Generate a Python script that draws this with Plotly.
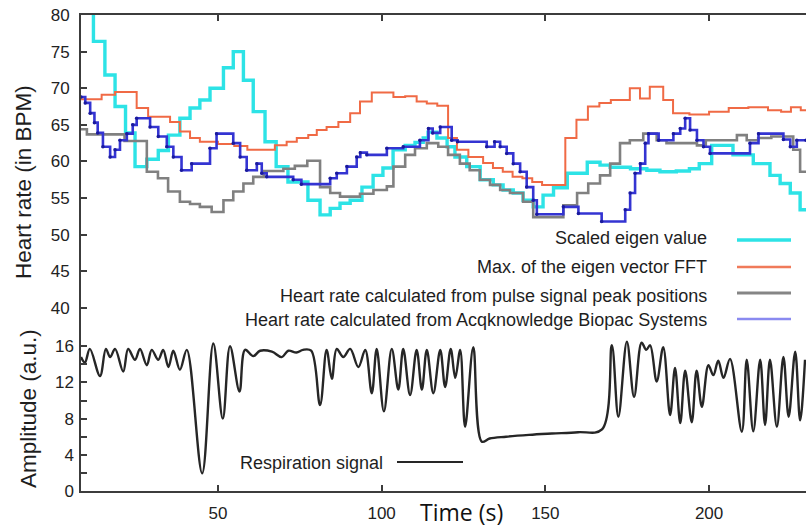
import plotly.graph_objects as go

# Heart-rate estimates, step samples as (time in s, BPM)
scaled_eigen = [(8.2, 84.0), (12.0, 76.4), (15.5, 71.8), (18.6, 67.5), (21.8, 63.9), (24.7, 59.3),
                (28.3, 60.3), (31.8, 61.5), (34.9, 63.6), (38.4, 65.9), (41.5, 67.3), (44.5, 68.4),
                (47.6, 70.0), (51.7, 72.8), (54.7, 75.0), (57.8, 71.1), (60.8, 66.8), (64.4, 62.7),
                (67.8, 59.3), (71.4, 57.2), (77.5, 54.7), (81.2, 52.7), (84.3, 53.6), (87.3, 54.3),
                (90.4, 54.7), (94.0, 56.5), (97.4, 58.1), (100.4, 59.1), (103.5, 61.6), (107.2, 62.2),
                (110.2, 62.6), (112.7, 63.2), (114.2, 64.0), (116.9, 63.2), (120.0, 62.0), (122.4, 60.6),
                (126.0, 59.3), (130.1, 57.5), (134.1, 56.8), (137.1, 56.1), (140.2, 55.7), (143.2, 54.7),
                (146.3, 53.8), (149.3, 55.4), (152.5, 56.4), (156.7, 58.4), (162.8, 59.9), (166.7, 59.5),
                (169.8, 59.2), (176.0, 59.0), (181.0, 58.8), (185.0, 58.6), (190.0, 58.7), (194.0, 59.0),
                (197.0, 59.7), (200.8, 62.2), (207.3, 60.9), (213.5, 59.7), (218.6, 58.1), (221.7, 57.0),
                (224.8, 55.7), (227.8, 53.4), (229.6, 53.4)]

eigen_fft = [(8.2, 68.5), (14.5, 69.1), (18.6, 69.5), (25.2, 67.3), (28.7, 66.1), (35.4, 65.4),
             (38.4, 64.1), (41.5, 63.2), (44.5, 62.7), (50.0, 62.4), (55.0, 62.1), (59.0, 61.6),
             (67.4, 62.2), (71.0, 62.7), (74.1, 63.2), (77.6, 63.6), (80.2, 64.3), (83.2, 64.7),
             (86.8, 65.4), (90.4, 66.6), (93.4, 68.2), (97.0, 69.4), (103.6, 68.8), (107.2, 68.9),
             (110.7, 68.2), (113.8, 67.9), (117.0, 67.6), (120.3, 63.2), (123.0, 61.6), (126.5, 60.6),
             (131.0, 59.8), (134.0, 59.1), (137.0, 58.6), (140.0, 57.9), (143.0, 57.7), (146.0, 57.2),
             (149.0, 56.8), (156.1, 63.2), (159.5, 65.7), (163.0, 67.5), (166.5, 68.0), (170.0, 68.4),
             (175.8, 70.0), (178.9, 68.6), (181.9, 70.2), (186.0, 68.4), (189.0, 66.6), (194.0, 66.4),
             (200.0, 66.8), (206.0, 67.3), (212.0, 67.4), (218.0, 67.0), (222.0, 66.8), (225.0, 67.4),
             (228.0, 67.0), (229.6, 67.0)]

pulse_peaks = [(8.2, 64.4), (10.0, 63.7), (21.5, 62.8), (28.3, 58.6), (31.7, 57.7), (34.8, 55.9),
               (38.4, 54.5), (41.5, 54.2), (44.5, 53.8), (48.1, 53.1), (51.7, 54.7), (54.7, 55.9),
               (57.8, 57.0), (60.8, 57.9), (64.0, 58.7), (70.0, 59.0), (73.5, 59.4), (77.3, 60.1),
               (81.2, 56.5), (84.3, 55.7), (87.3, 55.2), (93.4, 55.6), (97.5, 56.1), (101.6, 56.6),
               (103.6, 59.3), (107.2, 60.9), (110.2, 61.8), (113.8, 62.5), (117.3, 62.0), (120.3, 60.9),
               (123.9, 59.7), (126.9, 58.8), (130.0, 57.5), (133.1, 56.8), (136.2, 56.1), (139.2, 55.7),
               (143.2, 54.5), (146.3, 52.4), (155.5, 54.0), (159.7, 55.7), (163.1, 57.0), (166.7, 58.1),
               (169.8, 59.7), (172.8, 62.5), (175.8, 62.9), (179.9, 63.8), (184.0, 62.9), (187.0, 62.5),
               (196.3, 62.2), (199.0, 62.9), (208.5, 63.6), (211.5, 62.9), (215.0, 63.2), (219.0, 63.4),
               (225.7, 61.6), (227.8, 58.6), (229.6, 58.6)]

biopac = [(8.2, 68.8), (9.5, 68.0), (11.0, 66.6), (12.3, 65.3), (13.3, 63.9), (14.9, 62.0),
          (17.1, 60.6), (18.6, 61.6), (20.1, 62.9), (22.2, 63.8), (24.0, 65.0), (25.2, 65.9),
          (29.3, 64.7), (31.8, 63.4), (34.4, 62.0), (36.4, 60.6), (38.9, 58.8), (42.0, 59.7),
          (47.6, 61.8), (49.6, 63.8), (54.7, 62.5), (56.8, 60.6), (58.8, 58.8), (61.9, 59.7),
          (63.4, 58.4), (64.9, 57.9), (73.0, 57.5), (75.5, 56.9), (84.3, 57.7), (86.3, 58.4),
          (89.4, 59.3), (92.4, 60.6), (93.5, 61.2), (95.5, 60.9), (101.6, 61.8), (106.6, 62.0),
          (111.7, 62.9), (114.3, 64.5), (115.6, 63.9), (117.9, 64.7), (121.4, 62.9), (123.2, 62.7),
          (132.1, 62.0), (134.5, 62.7), (136.2, 62.0), (138.2, 61.1), (140.2, 59.7), (142.3, 58.6),
          (144.3, 56.5), (146.3, 54.7), (147.4, 52.8), (155.5, 53.8), (160.1, 52.9), (167.2, 51.8),
          (174.4, 53.4), (175.9, 55.7), (177.4, 58.4), (179.0, 59.7), (180.5, 62.5), (181.5, 63.8),
          (184.6, 62.9), (189.1, 63.8), (191.2, 64.5), (192.7, 65.9), (194.2, 64.3), (196.3, 62.9),
          (198.3, 62.0), (200.3, 61.1), (212.5, 62.5), (215.1, 63.8), (222.7, 63.0), (224.8, 62.0),
          (226.8, 62.9), (229.6, 62.9)]

# Respiration signal turning points as (time in s, amplitude a.u.)
respiration = [(8.2, 14.8), (9.4, 14.2), (10.9, 15.7), (14.0, 12.7), (15.8, 15.7), (17.1, 14.8),
               (18.6, 15.7), (21.1, 13.2), (22.6, 15.7), (24.7, 14.5), (26.2, 15.7), (28.3, 13.9),
               (29.8, 15.6), (31.8, 14.5), (33.3, 15.6), (34.9, 13.7), (36.4, 15.5), (38.4, 13.4),
               (40.5, 15.6), (45.2, 1.95), (48.6, 16.3), (51.5, 8.0), (53.7, 16.0), (56.6, 11.0),
               (58.3, 15.6), (60.8, 14.9), (62.9, 15.5), (66.5, 15.4), (69.5, 14.8), (71.5, 15.5),
               (74.0, 15.3), (76.0, 15.6), (78.5, 15.5), (81.2, 9.5), (83.2, 15.6), (84.8, 12.4),
               (86.3, 15.7), (88.3, 14.8), (90.4, 15.7), (92.9, 13.7), (95.0, 15.6), (97.0, 10.8),
               (98.5, 15.7), (100.7, 8.8), (103.1, 15.7), (105.1, 11.2), (106.6, 15.7), (108.7, 10.6),
               (110.7, 15.6), (112.3, 11.2), (113.8, 15.6), (115.8, 10.8), (117.9, 15.6), (119.4, 11.5),
               (121.1, 15.7), (122.5, 12.5), (124.0, 15.6), (125.5, 7.1), (128.0, 15.9), (130.6, 5.45),
               (133.0, 5.8), (138.0, 6.0), (145.0, 6.2), (152.0, 6.35), (160.0, 6.5), (167.3, 6.8),
               (170.3, 16.1), (172.3, 8.2), (174.9, 16.5), (177.1, 10.4), (179.4, 16.4), (180.8, 15.6),
               (182.0, 16.1), (184.0, 12.1), (186.0, 15.9), (188.1, 8.4), (189.6, 13.6), (191.2, 7.5),
               (192.7, 13.3), (194.7, 7.6), (196.2, 13.3), (197.8, 9.3), (199.8, 13.9), (201.3, 12.8),
               (202.8, 14.4), (204.4, 12.5), (206.4, 14.6), (210.0, 6.55), (211.5, 14.5), (213.5, 6.6),
               (215.6, 14.5), (217.1, 7.3), (218.6, 14.5), (220.7, 7.1), (222.7, 14.8), (224.3, 8.2),
               (226.3, 15.4), (227.8, 7.8), (229.3, 14.5)]

time_ticks = [50, 100, 150, 200]
hr_ticks = [40, 45, 50, 55, 60, 65, 70, 75, 80]
amp_ticks = [0, 2, 4, 6, 8, 10, 12, 14, 16]
amp_labels = ["0", "", "4", "", "8", "", "12", "", "16"]

# name, samples, line colour, line width, legend-sample colour, legend-sample width
series = [
    ("Scaled eigen value", scaled_eigen, "#2de3e6", 3.4, "#2de3e6", 3.6),
    ("Max. of the eigen vector FFT", eigen_fft, "#f06a45", 2.0, "#f07a5a", 2.6),
    ("Heart rate calculated from pulse signal peak positions", pulse_peaks, "#808080", 2.6, "#858585", 3.0),
    ("Heart rate calculated from Acqknowledge Biopac Systems", biopac, "#3434d2", 2.6, "#8a8af0", 2.6),
]

W, H = 806, 527
L, R, T, B = 81, 806, 15, 491
FONT = "Liberation Sans, Arial, sans-serif"
AXIS = "#3c3c3c"


def px(x):
    return (x - L) / (R - L)


def py(y):
    return (B - y) / (B - T)


fig = go.Figure()
for name, pts, color, width, _, _ in series:
    t, v = zip(*pts)
    is_biopac = pts is biopac
    fig.add_trace(go.Scatter(
        x=t, y=v, name=name, yaxis="y",
        mode="lines+markers" if is_biopac else "lines",
        line=dict(shape="hv", color=color, width=width),
        marker=dict(size=3.5, color="#1a1a9c") if is_biopac else None,
        showlegend=False,
    ))

rt, ra = zip(*respiration)
fig.add_trace(go.Scatter(
    x=rt, y=ra, name="Respiration signal", yaxis="y2", mode="lines",
    line=dict(shape="spline", smoothing=1.0, color="#262626", width=2.4),
    showlegend=False,
))

# Legend block: right-aligned labels with line samples
legend_rows = [238, 267, 296, 320]
sample_rows = [240, 267, 293, 319]
annotations = []
shapes = []
for (name, _, _, _, scol, swid), ty, ly in zip(series, legend_rows, sample_rows):
    annotations.append(dict(x=px(709), y=py(ty), xref="paper", yref="paper", text=name,
                            showarrow=False, xanchor="right", yanchor="middle",
                            font=dict(family=FONT, size=18, color="#1e1e1e")))
    shapes.append(dict(type="line", xref="paper", yref="paper", x0=px(737), x1=px(791),
                       y0=py(ly), y1=py(ly), line=dict(color=scol, width=swid)))

annotations.append(dict(x=px(238), y=py(463), xref="paper", yref="paper", text="Respiration signal",
                        showarrow=False, xanchor="left", yanchor="middle",
                        font=dict(family=FONT, size=18, color="#1e1e1e")))
shapes.append(dict(type="line", xref="paper", yref="paper", x0=px(397), x1=px(463),
                   y0=py(462), y1=py(462), line=dict(color="#262626", width=2)))

# Axis titles
annotations.append(dict(x=px(23), y=py(182), xref="paper", yref="paper", text="Heart rate (in BPM)",
                        textangle=-90, showarrow=False, xanchor="center", yanchor="middle",
                        font=dict(family=FONT, size=22.5, color="#1e1e1e")))
annotations.append(dict(x=px(28), y=py(409), xref="paper", yref="paper", text="Amplitude (a.u.)",
                        textangle=-90, showarrow=False, xanchor="center", yanchor="middle",
                        font=dict(family=FONT, size=22.5, color="#1e1e1e")))
annotations.append(dict(x=px(461), y=py(512), xref="paper", yref="paper", text="Time (s)",
                        showarrow=False, xanchor="center", yanchor="middle",
                        font=dict(family="Open Sans, sans-serif", size=23, color="#111111")))

tick_font = dict(family=FONT, size=17, color="#222222")
fig.update_layout(
    width=W, height=H,
    margin=dict(l=L, r=W - R, t=T, b=H - B),
    paper_bgcolor="white", plot_bgcolor="white",
    xaxis=dict(range=[8.2, 229.6], tickvals=time_ticks, ticks="inside", ticklen=6, tickwidth=2,
               tickcolor=AXIS, showline=True, linewidth=2, linecolor=AXIS, mirror="ticks",
               showgrid=False, zeroline=False, tickfont=tick_font, ticklabelstandoff=6),
    yaxis=dict(range=[15, 80], tickvals=hr_ticks, ticks="inside", ticklen=6, tickwidth=2,
               tickcolor=AXIS, showline=True, linewidth=2, linecolor=AXIS,
               showgrid=False, zeroline=False, tickfont=tick_font, ticklabelstandoff=6),
    yaxis2=dict(range=[0, 52.6], overlaying="y", side="left", tickvals=amp_ticks, ticktext=amp_labels,
                ticks="inside", ticklen=6, tickwidth=2, tickcolor=AXIS, showline=False,
                showgrid=False, zeroline=False, tickfont=tick_font, ticklabelstandoff=6),
    annotations=annotations,
    shapes=shapes,
)

fig.write_html("out.html")
